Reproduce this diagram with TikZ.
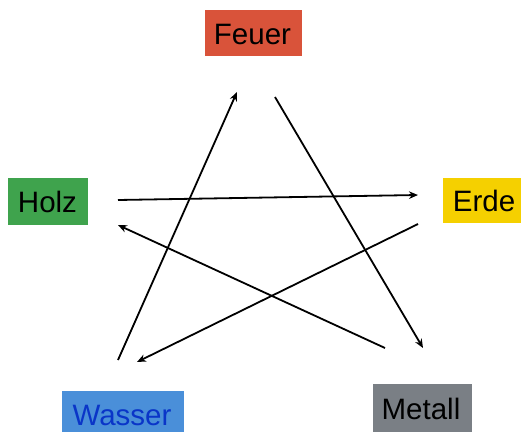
\documentclass[tikz,border=0pt]{standalone}
\usepackage{fontspec}
\setmainfont{Liberation Sans}
\usetikzlibrary{arrows.meta}
\definecolor{feuer}{HTML}{D9533A}
\definecolor{holz}{HTML}{3FA34D}
\definecolor{erde}{HTML}{F5D000}
\definecolor{wasser}{HTML}{4A8FD9}
\definecolor{wassertext}{HTML}{0A35C8}
\definecolor{metall}{HTML}{7A7F85}
\tikzset{
  elem/.style={inner sep=0pt, anchor=center, font=\fontsize{29.5}{34}\selectfont},
  conn/.style={line width=1.8pt, -{Stealth[length=9pt,width=7.5pt]}},
}
\begin{document}
\begin{tikzpicture}[x=1pt,y=-1pt]
\useasboundingbox (0,0) rectangle (521,431);
\begin{scope}
\clip (0,0) rectangle (521,431);
\fill[feuer] (205,10) rectangle (302,56);
\fill[holz] (8,178) rectangle (88,225);
\fill[erde] (443,178) rectangle (524,223);
\fill[wasser] (62,391) rectangle (184,440);
\fill[metall] (373,384) rectangle (472,440);
\end{scope}
\node[elem] (feuer) at (252.5,34) {Feuer};
\node[elem] (holz) at (47.5,202) {Holz};
\node[elem] (erde) at (484,201) {Erde};
\node[elem, text=wassertext] (wasser) at (122,415) {Wasser};
\node[elem] (metall) at (421,409) {Metall};
% connector ends
\coordinate (wF) at (118,360);
\coordinate (fW) at (237,92);
\coordinate (fM) at (275,97);
\coordinate (mF) at (423,348);
\coordinate (mH) at (385,348);
\coordinate (hM) at (118,225);
\coordinate (hE) at (118,200);
\coordinate (eH) at (418,195);
\coordinate (eW) at (418,224);
\coordinate (wE) at (137,362);
\draw[conn] (wF) -- (fW);
\draw[conn] (fM) -- (mF);
\draw[conn] (mH) -- (hM);
\draw[conn] (hE) -- (eH);
\draw[conn] (eW) -- (wE);
\end{tikzpicture}
\end{document}
